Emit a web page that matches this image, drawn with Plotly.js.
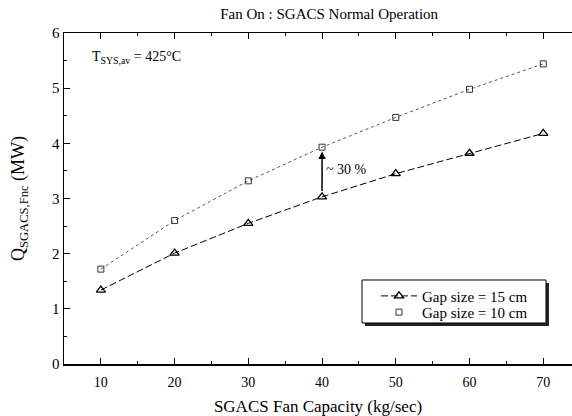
<!DOCTYPE html>
<html>
<head>
<meta charset="utf-8">
<script src="https://cdn.plot.ly/plotly-3.0.1.min.js"></script>
<style>html,body{margin:0;padding:0;background:#fff;}#chart{width:572px;height:416px;}</style>
</head>
<body>
<div id="chart"></div>
<script>
var fanCapacity = [10, 20, 30, 40, 50, 60, 70];
var gap15 = [1.34, 2.01, 2.55, 3.03, 3.45, 3.82, 4.18];
var gap10 = [1.72, 2.60, 3.32, 3.93, 4.47, 4.98, 5.44];
var seriesNames = ['Gap size = 15 cm', 'Gap size = 10 cm'];
var xTicks = [10, 20, 30, 40, 50, 60, 70];
var yTicks = [0, 1, 2, 3, 4, 5, 6];

var FONT = 'Liberation Serif';

var traces = [
  {
    x: fanCapacity, y: gap15, name: seriesNames[0], type: 'scatter', mode: 'lines+markers', legend: 'legend',
    line: {color: '#000', width: 1, dash: '7px,3px'},
    marker: {symbol: 'triangle-up-open', size: 8, color: '#000', line: {width: 1.3, color: '#000'}}
  },
  {
    x: fanCapacity, y: gap10, showlegend: false, type: 'scatter', mode: 'lines',
    line: {color: '#555', width: 1, dash: 'dot'}, hoverinfo: 'skip'
  },
  {
    x: fanCapacity, y: gap10, name: seriesNames[1], type: 'scatter', mode: 'markers', legend: 'legend2',
    marker: {symbol: 'square-open', size: 6, color: '#333', line: {width: 1, color: '#333'}}
  }
];

var legendCommon = {
  xanchor: 'left', yanchor: 'middle', x: 0.5866,
  bgcolor: 'rgba(0,0,0,0)', borderwidth: 0, indentation: 14,
  font: {family: FONT, size: 15, color: '#000'},
  tracegroupgap: 0, itemwidth: 36
};

var layout = {
  width: 572, height: 416,
  margin: {l: 64, r: 0, t: 33, b: 52},
  paper_bgcolor: '#fff', plot_bgcolor: '#fff',
  font: {family: FONT, color: '#000', size: 13},
  showlegend: true,
  title: {text: 'Fan On : SGACS Normal Operation', font: {family: FONT, size: 15, color: '#000'},
          x: 0.522, xref: 'paper', y: 0.966, yref: 'container', yanchor: 'middle'},
  xaxis: {
    range: [5, 73.9], tickvals: xTicks, ticktext: xTicks.map(String),
    ticks: 'inside', ticklen: 6, tickwidth: 1, tickcolor: '#000',
    minor: {dtick: 5, tick0: 5, ticks: 'inside', ticklen: 3, tickcolor: '#000', showgrid: false},
    showline: true, linecolor: '#000', linewidth: 1.5, mirror: 'ticks',
    showgrid: false, zeroline: false, ticklabelstandoff: 5,
    tickfont: {family: FONT, size: 14, color: '#000'},
    title: {text: 'SGACS Fan Capacity (kg/sec)', font: {family: FONT, size: 17, color: '#000'}, standoff: 12}
  },
  yaxis: {
    range: [0, 6], tickvals: yTicks, ticktext: yTicks.map(String),
    ticks: 'inside', ticklen: 6, tickwidth: 1, tickcolor: '#000',
    minor: {dtick: 0.5, ticks: 'inside', ticklen: 3, tickcolor: '#000', showgrid: false},
    showline: true, linecolor: '#000', linewidth: 1.5, mirror: false,
    showgrid: false, zeroline: false,
    tickfont: {family: FONT, size: 15, color: '#000'},
    title: {text: 'Q<sub>SGACS,Fnc</sub> (MW)', font: {family: FONT, size: 18, color: '#000'}, standoff: 22}
  },
  legend: Object.assign({}, legendCommon, {y: 0.205}),
  legend2: Object.assign({}, legendCommon, {y: 0.156}),
  shapes: [
    {type: 'rect', xref: 'paper', yref: 'paper', x0: 0.5925, x1: 0.9547, y0: 0.1148, y1: 0.2447,
     fillcolor: '#222', line: {width: 0}, layer: 'above'},
    {type: 'rect', xref: 'paper', yref: 'paper', x0: 0.5866, x1: 0.9488, y0: 0.1239, y1: 0.2538,
     fillcolor: '#fff', line: {width: 1, color: '#000'}, layer: 'above'}
  ],
  annotations: [
    {x: 8.5, y: 5.55, xref: 'x', yref: 'y', xanchor: 'left', yanchor: 'middle', showarrow: false,
     text: 'T<sub>SYS,av</sub> = 425°C', font: {family: FONT, size: 14, color: '#000'}},
    {x: fanCapacity[3] + 0.25, y: (gap15[3] + gap10[3]) / 2 + 0.04, xref: 'x', yref: 'y', xanchor: 'left', yanchor: 'middle',
     showarrow: false, text: '~ 30 %', font: {family: FONT, size: 14, color: '#000'}},
    {x: fanCapacity[3], y: gap10[3] - 0.08, ax: fanCapacity[3], ay: gap15[3] + 0.08,
     xref: 'x', yref: 'y', axref: 'x', ayref: 'y', text: '', showarrow: true,
     arrowhead: 2, arrowsize: 1, arrowwidth: 1.5, arrowcolor: '#000'}
  ]
};

Plotly.newPlot('chart', traces, layout, {displayModeBar: false, staticPlot: true});
</script>
</body>
</html>
